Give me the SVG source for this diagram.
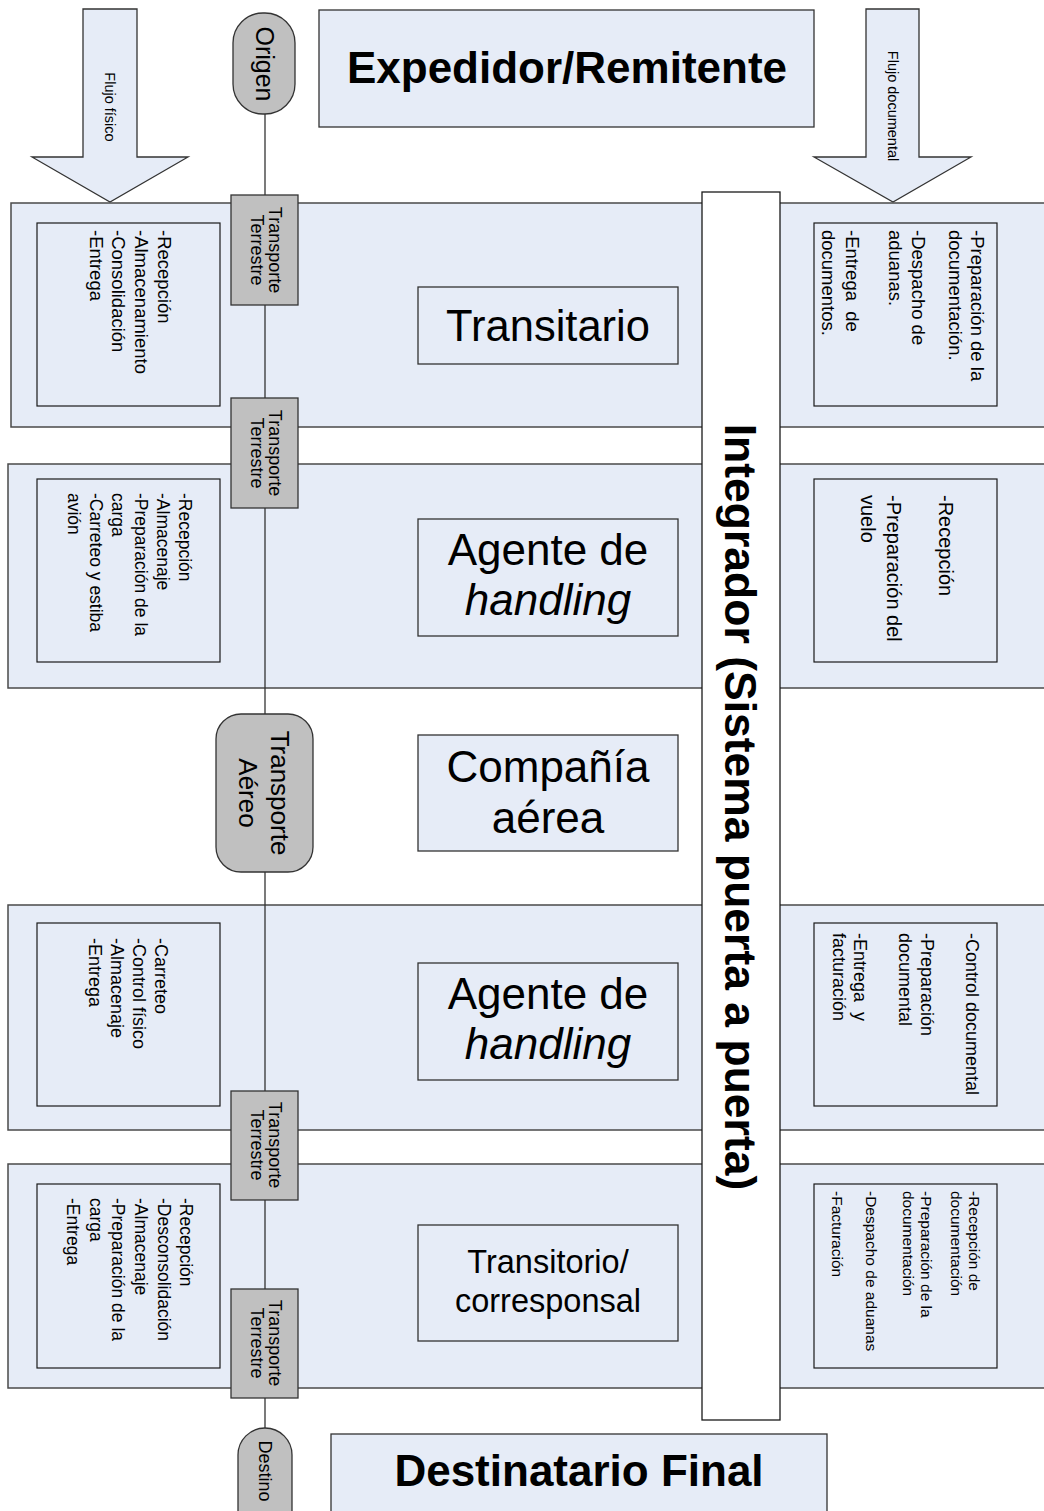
<svg xmlns="http://www.w3.org/2000/svg" width="1044" height="1511" viewBox="0 0 1044 1511">
<style>
.bg{fill:#ffffff}
.band{fill:#E6ECF7;stroke:#4a4a4a;stroke-width:1.5}
.inner{fill:#E6ECF7;stroke:#1a1a1a;stroke-width:1.2}
.box{fill:#E6ECF7;stroke:#333;stroke-width:1.3}
.gray{fill:#C0C0C0;stroke:#333;stroke-width:1.3}
.arrow{fill:#E6ECF7;stroke:#333;stroke-width:1.3}
.white{fill:#ffffff;stroke:#1a1a1a;stroke-width:1.3}
.line{stroke:#333;stroke-width:1.3;fill:none}
.t{font-family:"Liberation Sans",Arial,Helvetica,sans-serif;fill:#000}
.b{font-weight:bold}
.m{text-anchor:middle}
</style>
<rect class="bg" x="0" y="0" width="1044" height="1511"/>

<g id="flujo-fisico">
<polygon class="arrow" points="83,9 137,9 137,157 188,157 110,202 32,157 83,157"/>
<text class="t m" font-size="14.5" transform="translate(110,107) rotate(90)" dy="0.35em">Flujo físico</text>
</g>
<g id="flujo-documental">
<polygon class="arrow" points="866,9 919,9 919,157 971,157 893,202 814,157 866,157"/>
<text class="t m" font-size="14.5" transform="translate(893,106) rotate(90)" dy="0.35em">Flujo documental</text>
</g>

<g id="expedidor">
<rect class="box" x="319" y="10" width="495" height="117"/>
<text class="t b m" font-size="44" x="567" y="83">Expedidor/Remitente</text>
</g>

<g id="band1">
<rect class="band" x="11" y="203" width="1040" height="224"/>
<rect class="inner" x="37" y="223" width="183" height="183"/>
<text class="t" font-size="18.5" transform="translate(164,230) rotate(90)"><tspan x="0" dy="0.33em">-Recepción</tspan><tspan x="0" dy="23">-Almacenamiento</tspan><tspan x="0" dy="23">-Consolidación</tspan><tspan x="0" dy="22">-Entrega</tspan></text>
<rect class="inner" x="814" y="223" width="183" height="183"/>
<text class="t" font-size="18.5" transform="translate(977,230) rotate(90)"><tspan x="0" dy="0.33em">-Preparación de la</tspan><tspan x="0" dy="22">documentación.</tspan><tspan x="0" dy="37">-Despacho de</tspan><tspan x="0" dy="23">aduanas.</tspan><tspan x="0" dy="43">-Entrega&#160; de</tspan><tspan x="0" dy="24">documentos.</tspan></text>
</g>
<g id="transitario">
<rect class="box" x="418" y="287" width="260" height="77"/>
<text class="t m" font-size="43.5" x="548" y="341">Transitario</text>
</g>

<g id="band2">
<rect class="band" x="8" y="464" width="1040" height="224"/>
<rect class="inner" x="37" y="479" width="183" height="183"/>
<text class="t" font-size="17.5" transform="translate(185,493) rotate(90)"><tspan x="0" dy="0.33em">-Recepción</tspan><tspan x="0" dy="22">-Almacenaje</tspan><tspan x="0" dy="22">-Preparación de la</tspan><tspan x="0" dy="23">carga</tspan><tspan x="0" dy="22">-Carreteo y estiba</tspan><tspan x="0" dy="22">avión</tspan></text>
<rect class="inner" x="814" y="479" width="183" height="183"/>
<text class="t" font-size="20" transform="translate(946,495) rotate(90)"><tspan x="0" dy="0.33em">-Recepción</tspan><tspan x="0" dy="52">-Preparación del</tspan><tspan x="0" dy="26">vuelo</tspan></text>
</g>
<g id="agente1">
<rect class="box" x="418" y="519" width="260" height="117"/>
<text class="t m" font-size="44" x="548" y="565">Agente de</text>
<text class="t m" font-size="44" font-style="italic" x="548" y="615">handling</text>
</g>

<g id="compania">
<rect class="box" x="418" y="735" width="260" height="116"/>
<text class="t m" font-size="44" x="548" y="782">Compañía</text>
<text class="t m" font-size="44" x="548" y="833">aérea</text>
</g>

<g id="band4">
<rect class="band" x="8" y="905" width="1040" height="225"/>
<rect class="inner" x="37" y="923" width="183" height="183"/>
<text class="t" font-size="18" transform="translate(161,938) rotate(90)"><tspan x="0" dy="0.33em">-Carreteo</tspan><tspan x="0" dy="22">-Control físico</tspan><tspan x="0" dy="22">-Almacenaje</tspan><tspan x="0" dy="22">-Entrega</tspan></text>
<rect class="inner" x="814" y="923" width="183" height="183"/>
<text class="t" font-size="18" transform="translate(972,933) rotate(90)"><tspan x="0" dy="0.33em">-Control documental</tspan><tspan x="0" dy="45">-Preparación</tspan><tspan x="0" dy="22">documental</tspan><tspan x="0" dy="45">-Entrega&#160; y</tspan><tspan x="0" dy="21">facturación</tspan></text>
</g>
<g id="agente2">
<rect class="box" x="418" y="963" width="260" height="117"/>
<text class="t m" font-size="44" x="548" y="1009">Agente de</text>
<text class="t m" font-size="44" font-style="italic" x="548" y="1059">handling</text>
</g>

<g id="band5">
<rect class="band" x="8" y="1164" width="1040" height="224"/>
<rect class="inner" x="37" y="1184" width="183" height="184"/>
<text class="t" font-size="17.5" transform="translate(186,1198) rotate(90)"><tspan x="0" dy="0.33em">-Recepción</tspan><tspan x="0" dy="22">-Desconsolidación</tspan><tspan x="0" dy="23">-Almacenaje</tspan><tspan x="0" dy="23">-Preparación de la</tspan><tspan x="0" dy="22">carga</tspan><tspan x="0" dy="23">-Entrega</tspan></text>
<rect class="inner" x="814" y="1184" width="183" height="184"/>
<text class="t" font-size="15.5" transform="translate(974,1191) rotate(90)"><tspan x="0" dy="0.33em">-Recepción de</tspan><tspan x="0" dy="18">documentación</tspan><tspan x="0" dy="30">-Preparación de la</tspan><tspan x="0" dy="18">documentación</tspan><tspan x="0" dy="37">-Despacho de aduanas</tspan><tspan x="0" dy="34">-Facturación</tspan></text>
</g>
<g id="transitorio">
<rect class="box" x="418" y="1225" width="260" height="116"/>
<text class="t m" font-size="32.5" x="548" y="1273">Transitorio/</text>
<text class="t m" font-size="32.5" x="548" y="1312">corresponsal</text>
</g>

<g id="integrador">
<rect class="white" x="702" y="192" width="78" height="1228"/>
<text class="t b m" font-size="44.5" transform="translate(741,807) rotate(90)" dy="0.35em">Integrador (Sistema puerta a puerta)</text>
</g>

<g id="connectors">
<line class="line" x1="265" y1="114" x2="265" y2="1428"/>
</g>

<g id="origen">
<rect class="gray" x="233" y="13" width="62" height="101" rx="30" ry="30"/>
<text class="t m" font-size="25" transform="translate(265,64) rotate(90)" dy="0.35em">Origen</text>
</g>
<g id="tt1">
<rect class="gray" x="231" y="195" width="67" height="110"/>
<text class="t m" font-size="18" transform="translate(275,250) rotate(90)"><tspan x="0" dy="0.35em">Transporte</tspan><tspan x="0" dy="18">Terrestre</tspan></text>
</g>
<g id="tt2">
<rect class="gray" x="231" y="398" width="67" height="110"/>
<text class="t m" font-size="18" transform="translate(275,453) rotate(90)"><tspan x="0" dy="0.35em">Transporte</tspan><tspan x="0" dy="18">Terrestre</tspan></text>
</g>
<g id="aereo">
<rect class="gray" x="216" y="714" width="97" height="158" rx="25" ry="25"/>
<text class="t m" font-size="26" transform="translate(280,793) rotate(90)"><tspan x="0" dy="0.35em">Transporte</tspan><tspan x="0" dy="32">Aéreo</tspan></text>
</g>
<g id="tt3">
<rect class="gray" x="231" y="1091" width="67" height="109"/>
<text class="t m" font-size="18" transform="translate(275,1145) rotate(90)"><tspan x="0" dy="0.35em">Transporte</tspan><tspan x="0" dy="18">Terrestre</tspan></text>
</g>
<g id="tt4">
<rect class="gray" x="231" y="1289" width="67" height="109"/>
<text class="t m" font-size="18" transform="translate(275,1343) rotate(90)"><tspan x="0" dy="0.35em">Transporte</tspan><tspan x="0" dy="18">Terrestre</tspan></text>
</g>
<g id="destino">
<rect class="gray" x="238" y="1428" width="54" height="110" rx="27" ry="27"/>
<text class="t m" font-size="18" transform="translate(265,1471) rotate(90)" dy="0.35em">Destino</text>
</g>
<g id="destinatario">
<rect class="box" x="331" y="1434" width="496" height="100"/>
<text class="t b m" font-size="44" x="579" y="1486">Destinatario Final</text>
</g>
</svg>
